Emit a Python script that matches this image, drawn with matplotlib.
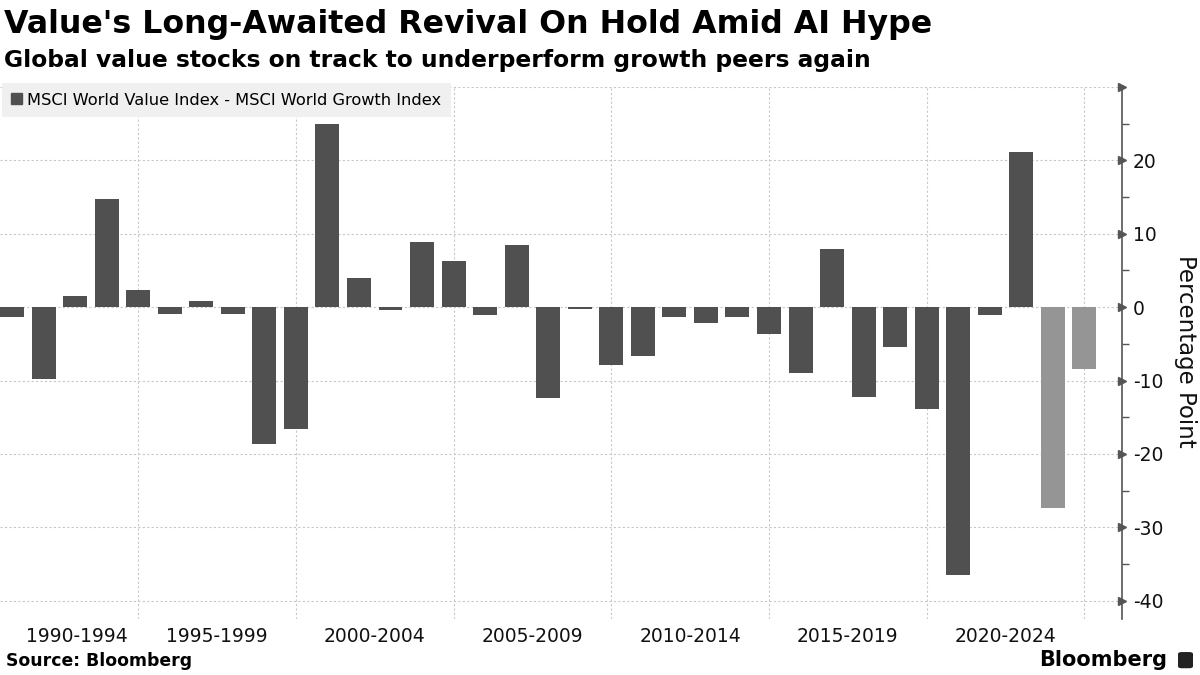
import matplotlib
matplotlib.use("Agg")
import matplotlib.pyplot as plt
from matplotlib.patches import FancyBboxPatch, Patch

# data
years = list(range(1990, 2025))
values = [-1.4, -9.8, 1.5, 14.7, 2.3, -0.9, 0.8, -0.9, -18.6, -16.6,
          25.0, 4.0, -0.4, 8.9, 6.3, -1.1, 8.5, -12.4, -0.2, -7.9,
          -6.6, -1.3, -2.1, -1.4, -3.6, -9.0, 7.9, -12.2, -5.4, -13.9,
          -36.5, -1.1, 21.1, -27.4, -8.4]
highlight_years = [2023, 2024]
group_labels = ["1990-1994", "1995-1999", "2000-2004", "2005-2009",
                "2010-2014", "2015-2019", "2020-2024"]
group_ends = [1994, 1999, 2004, 2009, 2014, 2019, 2024]
y_ticks = [-40, -30, -20, -10, 0, 10, 20, 30]

DARK = "#505050"
LIGHT = "#959595"
GRID = "#c8c8c8"

plt.rcParams["font.family"] = ["DejaVu Sans"]

fig = plt.figure(figsize=(12, 6.75), dpi=100)
ax = fig.add_axes([0.0, 0.083, 0.935, 0.788])

colors = [LIGHT if y in highlight_years else DARK for y in years]
ax.bar(years, values, width=0.76, color=colors, zorder=3)

x_lo, x_hi = 1989.62, 2025.19
ax.set_xlim(x_lo, x_hi)
ax.set_ylim(-42.5, 30)

# vertical grid at group boundaries, labels centred between them
ax.set_xticks(group_ends)
ax.set_xticklabels([])
mids = [e - 2.5 for e in group_ends]
# first label is pushed inside the visible range
mids[0] = (x_lo + group_ends[0]) / 2 + 0.25
ax.set_xticks(mids, minor=True)
ax.set_xticklabels(group_labels, minor=True, fontsize=13.5, color="#111111")
ax.tick_params(axis="x", which="both", length=0, pad=6)
ax.xaxis.grid(True, which="major", color=GRID, linestyle=(0, (2, 2)), linewidth=0.8)

# right-side value axis
ax.yaxis.tick_right()
ax.set_yticks(y_ticks)
ax.set_yticklabels([str(t) if t != 30 else "" for t in y_ticks], fontsize=13.5, color="#111111")
ax.set_yticks([-35, -25, -15, -5, 5, 15, 25], minor=True)
ax.tick_params(axis="y", which="major", length=0, pad=8)
ax.tick_params(axis="y", which="minor", length=5, width=1, color="#555555", direction="out")
ax.yaxis.grid(True, which="major", color=GRID, linestyle=(0, (2, 2)), linewidth=0.8)
ax.plot([1] * len(y_ticks), y_ticks, ls="none", marker=">", markersize=6, color="#555555",
        transform=ax.get_yaxis_transform(), clip_on=False, zorder=5)

for side in ["top", "left", "bottom"]:
    ax.spines[side].set_visible(False)
ax.spines["right"].set_color("#555555")
ax.spines["right"].set_linewidth(1.2)
ax.set_axisbelow(True)

# legend
leg = ax.legend(handles=[Patch(color=DARK, label="MSCI World Value Index - MSCI World Growth Index")],
                loc="upper left", bbox_to_anchor=(0.0015, 1.008), frameon=True, fancybox=False,
                facecolor="#f0f0f0", edgecolor="none", framealpha=1, fontsize=11.7,
                handlelength=0.65, handleheight=0.65, handletextpad=0.3, borderpad=0.6,
                borderaxespad=0)
leg.set_zorder(6)

# titles and footer
fig.text(0.003, 0.963, "Value's Long-Awaited Revival On Hold Amid AI Hype",
         fontsize=22.8, fontweight="bold", va="center", ha="left")
fig.text(0.003, 0.911, "Global value stocks on track to underperform growth peers again",
         fontsize=16.8, fontweight="bold", va="center", ha="left")
fig.text(1185 / 1200, 0.48, "Percentage Point", rotation=270, fontsize=16.5,
         va="center", ha="center", color="#111111")
fig.text(0.005, 0.02, "Source: Bloomberg", fontsize=12.4, fontweight="bold", va="center", ha="left")
fig.text(0.973, 0.022, "Bloomberg", fontsize=15, fontweight="bold", va="center", ha="right")
fig.patches.append(FancyBboxPatch((1178 / 1200, 0.01), 15 / 1200, 0.024,
                                  boxstyle="round,pad=0,rounding_size=0.003",
                                  transform=fig.transFigure, facecolor="#222222", edgecolor="none"))

fig.savefig("out.png", dpi=100)
